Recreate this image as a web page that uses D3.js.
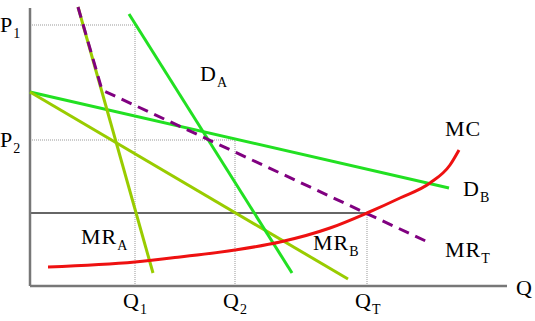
<!DOCTYPE html>
<html><head><meta charset="utf-8">
<script src="https://cdn.jsdelivr.net/npm/d3@7"></script>
<style>
html,body{margin:0;padding:0;background:#fff;}
</style></head>
<body><svg id="c" width="535" height="321"></svg>
<script>
// Data (quantity, price) in chart units
const demandA = [[99,272],[262,13]];
const mrA = [[48,279],[123,13]];
const demandB = [[0,194],[419,98]];
const mrB = [[0,194],[318,7]];
const mrT = [[48,279],[72,196],[400,43]];
const mc = [[18,19],[105,24],[150,29],[205,36],[250,44],[300,58],[337,73],[370,88],[400,103],[420,121],[429,136]];
const priceTicks = [{label:"P",sub:"1",v:261},{label:"P",sub:"2",v:146}];
const qtyTicks = [{label:"Q",sub:"1",v:105,top:261},{label:"Q",sub:"2",v:205,top:146},{label:"Q",sub:"T",v:337,top:73}];
const mcLevel = 73;
const curveLabels = [
  {label:"D",sub:"A",q:170,p:205},
  {label:"MR",sub:"A",q:51,p:42},
  {label:"MR",sub:"B",q:283,p:36},
  {label:"MC",q:415,p:150},
  {label:"D",sub:"B",q:433,p:90},
  {label:"MR",sub:"T",q:415,p:29}
];

const FONT = "'Liberation Serif', 'DejaVu Serif', 'Times New Roman', serif";
const svg = d3.select("#c");
const x = d3.scaleLinear().domain([0,480]).range([30,510]);
const y = d3.scaleLinear().domain([0,280]).range([286,6]);

// dotted guide lines
const g = svg.append("g").attr("stroke","#999").attr("stroke-width",1).attr("stroke-dasharray","1,1").attr("fill","none");
priceTicks.forEach((t,i)=>{
  const q = qtyTicks[i].v;
  g.append("line").attr("x1",x(0)).attr("x2",x(q)).attr("y1",y(t.v)).attr("y2",y(t.v));
});
qtyTicks.forEach(t=>{
  g.append("line").attr("x1",x(t.v)).attr("x2",x(t.v)).attr("y1",y(0)).attr("y2",y(t.top));
});
// MC level line
svg.append("line").attr("x1",x(0)).attr("x2",x(qtyTicks[2].v)).attr("y1",y(mcLevel)).attr("y2",y(mcLevel))
  .attr("stroke","#333").attr("stroke-width",1.5);

// axes
svg.append("line").attr("x1",x(0)).attr("x2",x(0)).attr("y1",y(278)).attr("y2",y(0)).attr("stroke","#777").attr("stroke-width",2.5);
svg.append("line").attr("x1",x(0)).attr("x2",x(477)).attr("y1",y(0)).attr("y2",y(0)).attr("stroke","#777").attr("stroke-width",2.5);

// curves
const draw = (data,color,dash,curve)=>{
  const l = d3.line().x(d=>x(d[0])).y(d=>y(d[1])).curve(curve||d3.curveLinear);
  svg.append("path").datum(data).attr("d",l).attr("fill","none").attr("stroke",color)
    .attr("stroke-width",3).attr("stroke-dasharray",dash||null);
};
draw(demandB,"#22e022");
draw(mrB,"#99cc00");
draw(demandA,"#22e022");
draw(mrA,"#99cc00");
draw(mrT,"#800080","11,7");
draw(mc,"#ee1111",null,d3.curveMonotoneX);

// labels
function lab(px,py,t,sub){
  const te = svg.append("text").attr("x",px).attr("y",py).attr("font-size",22)
    .attr("font-family",FONT).attr("fill","#000").attr("letter-spacing",1);
  te.append("tspan").text(t);
  if(sub) te.append("tspan").attr("dy",6).attr("font-size",14).attr("letter-spacing",0).text(sub);
}
priceTicks.forEach(t=>lab(0,y(t.v)+7,t.label,t.sub));
qtyTicks.forEach(t=>lab(x(t.v)-12,y(0)+22,t.label,t.sub));
lab(x(486),y(0)+9,"Q");
curveLabels.forEach(c=>lab(x(c.q),y(c.p),c.label,c.sub));
</script></body></html>
